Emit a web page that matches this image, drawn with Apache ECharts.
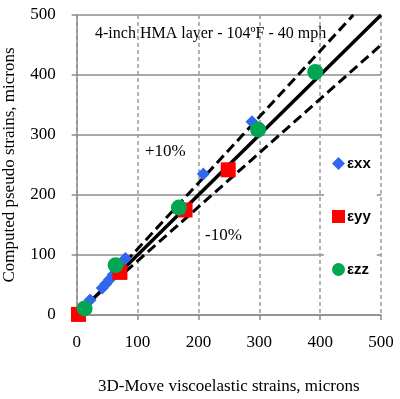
<!DOCTYPE html>
<html><head><meta charset="utf-8">
<script src="https://cdn.jsdelivr.net/npm/echarts@6/dist/echarts.min.js"></script>
<style>html,body{margin:0;padding:0;background:#fff}#c{width:400px;height:399px}</style>
</head><body><div id="c"></div>
<script>
var ticks = [0, 100, 200, 300, 400, 500];
var exxX = [3, 22, 42, 48, 54, 60, 66, 72, 80, 208, 288];
var exxY = [3, 25, 45, 52, 59, 67, 74, 82, 94, 235, 322];
var eyyX = [3, 71, 178, 249];
var eyyY = [1, 71, 175, 242];
var ezzX = [13, 64, 168, 298, 392];
var ezzY = [11, 83, 179, 309, 405];
var equalLineX = [0, 500], equalLineY = [0, 500];
var plusLineX = [80, 454.5], plusLineY = [88, 500];
var minusLineX = [80, 500], minusLineY = [72, 450];
function pairs(xs, ys){ return xs.map(function(x,i){return [x, ys[i]];}); }
var serif = 'Liberation Serif';
var chart = echarts.init(document.getElementById('c'), null, {renderer:'canvas'});
chart.setOption({
  animation: false,
  grid: {left: 76.7, right: 19, top: 15, bottom: 84, containLabel: false, outerBoundsMode: 'none'},
  xAxis: {
    type: 'value', min: 0, max: 500, interval: 100,
    name: '3D-Move viscoelastic strains, microns', nameLocation: 'middle', nameGap: 63,
    nameTextStyle: {fontFamily: serif, fontSize: 17, color: '#000'},
    axisLine: {show: true, lineStyle: {color: '#8c8c8c', width: 1.5}},
    axisTick: {show: true, length: 5, lineStyle: {color: '#8c8c8c', width: 1.5}},
    axisLabel: {fontFamily: serif, fontSize: 17, color: '#000', margin: 19},
    splitLine: {show: true, lineStyle: {color: '#9a9a9a', width: 1.5, type: [4, 3]}}
  },
  yAxis: {
    type: 'value', min: 0, max: 500, interval: 100,
    name: 'Computed pseudo strains, microns', nameLocation: 'middle', nameGap: 59,
    nameTextStyle: {fontFamily: serif, fontSize: 17, color: '#000'},
    axisLine: {show: true, lineStyle: {color: '#8c8c8c', width: 1.5}},
    axisTick: {show: true, length: 5, lineStyle: {color: '#8c8c8c', width: 1.5}},
    axisLabel: {fontFamily: serif, fontSize: 17, color: '#000', margin: 21},
    splitLine: {show: true, lineStyle: {color: '#8c8c8c', width: 1.5}}
  },
  legend: {
    orient: 'vertical', left: 324, top: 141,
    padding: [15, 6, 15, 8],
    backgroundColor: '#fff',
    itemWidth: 13, itemHeight: 13, itemGap: 38,
    textStyle: {fontFamily: 'Liberation Sans', fontWeight: 'bold', fontSize: 15, color: '#000', padding: [0,0,0,-3]},
    data: [{name: 'εxx', icon: 'diamond'}, {name: 'εyy', icon: 'rect'}, {name: 'εzz', icon: 'circle'}]
  },
  graphic: [
    {type: 'text', left: 95, top: 26, style: {text: '4-inch HMA layer - 104ºF - 40 mph', font: '16px "Liberation Serif"', fill: '#000'}},
    {type: 'text', left: 145, top: 143, style: {text: '+10%', font: '17px "Liberation Serif"', fill: '#000'}},
    {type: 'text', left: 205, top: 227, style: {text: '-10%', font: '17px "Liberation Serif"', fill: '#000'}}
  ],
  series: [
    {type: 'line', data: pairs(equalLineX, equalLineY), symbol: 'none', lineStyle: {color: '#000', width: 3.5}, silent: true, z: 2},
    {type: 'line', data: pairs(plusLineX, plusLineY), symbol: 'none', lineStyle: {color: '#000', width: 3, type: [10, 5]}, silent: true, z: 2},
    {type: 'line', data: pairs(minusLineX, minusLineY), symbol: 'none', lineStyle: {color: '#000', width: 3, type: [10, 5]}, silent: true, z: 2},
    {name: 'εxx', type: 'scatter', data: pairs(exxX, exxY), symbol: 'diamond', symbolSize: 13, itemStyle: {color: '#3366ee', opacity: 1}, z: 3},
    {name: 'εyy', type: 'scatter', data: pairs(eyyX, eyyY), symbol: 'rect', symbolSize: 15, itemStyle: {color: '#ff0000', opacity: 1}, z: 4},
    {name: 'εzz', type: 'scatter', data: pairs(ezzX, ezzY), symbol: 'circle', symbolSize: 16, itemStyle: {color: '#00a651', opacity: 1}, z: 5}
  ]
});
</script></body></html>
